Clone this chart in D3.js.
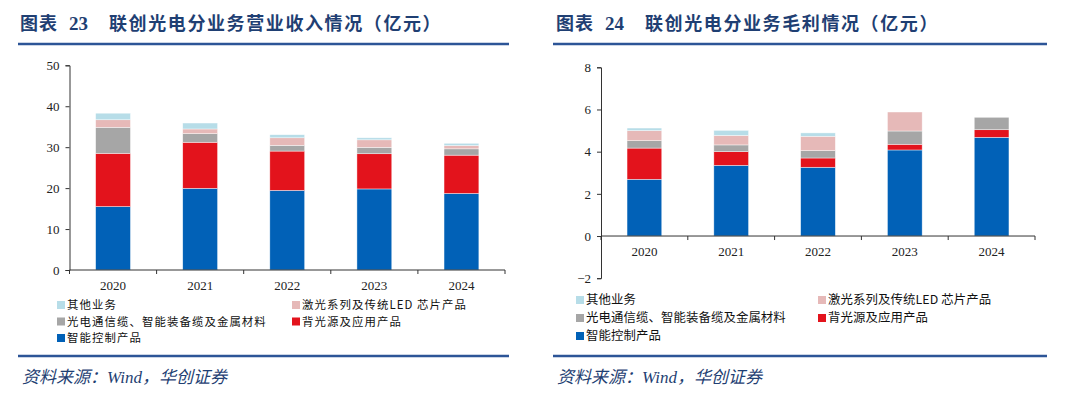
<!DOCTYPE html>
<html>
<head>
<meta charset="utf-8">
<script src="https://cdn.jsdelivr.net/npm/d3@7"></script>
<style>
  body { margin: 0; background: #fff; }
  svg { display: block; }
</style>
</head>
<body>
<svg width="1080" height="398"></svg>
<script>
var years = ['2020', '2021', '2022', '2023', '2024'];
var seriesNames = ['智能控制产品', '背光源及应用产品', '光电通信缆、智能装备缆及金属材料', '激光系列及传统LED 芯片产品', '其他业务'];
var seriesColors = ['#0161b7', '#e3131c', '#a6a6a6', '#e6b9b8', '#b7dde8'];

// 营业收入（亿元）
var revControl = [15.5, 19.95, 19.45, 19.8, 18.7];
var revBacklight = [13.0, 11.25, 9.6, 8.6, 9.35];
var revCable = [6.35, 2.1, 1.4, 1.55, 1.55];
var revLaser = [1.85, 1.15, 1.85, 1.85, 0.8];
var revOther = [1.6, 1.45, 0.75, 0.5, 0.55];

// 毛利（亿元）
var gpControl = [2.69, 3.35, 3.26, 4.08, 4.68];
var gpBacklight = [1.48, 0.65, 0.44, 0.27, 0.36];
var gpCable = [0.35, 0.32, 0.35, 0.63, 0.59];
var gpLaser = [0.48, 0.45, 0.68, 0.9, 0.0];
var gpOther = [0.12, 0.24, 0.16, 0.0, 0.0];

var revTicks = [0, 10, 20, 30, 40, 50];
var gpTicks = [-2, 0, 2, 4, 6, 8];

var svg = d3.select('svg');
var serif = '"Liberation Serif", "Times New Roman", serif';
var cjk = '"Noto Sans CJK SC", "Noto Sans", sans-serif';
var titleColor = '#1f3f73';

function buildRows(cols) {
    return years.map(function (y, i) {
        var row = { year: y };
        cols.forEach(function (c, k) { row['s' + k] = c[i]; });
        return row;
    });
}

function drawPanel(opt) {
    var g = svg.append('g');

    // title in three pieces: 图表 / number / caption
    var title = g.append('text')
        .attr('y', 30)
        .attr('font-family', serif + ',' + cjk)
        .attr('font-weight', 'bold')
        .attr('font-size', 18)
        .attr('fill', titleColor);
    title.append('tspan').attr('x', opt.titleX).attr('letter-spacing', 1).text('图表');
    title.append('tspan').attr('x', opt.titleX + 49).attr('font-size', 19).text(opt.num);
    title.append('tspan').attr('x', opt.titleX + 89).attr('letter-spacing', 1.6).text(opt.title);

    g.append('line')
        .attr('x1', opt.ruleX1).attr('x2', opt.ruleX2)
        .attr('y1', 44).attr('y2', 44)
        .attr('stroke', '#2c5597').attr('stroke-width', 2.5);
    g.append('line')
        .attr('x1', opt.ruleX1).attr('x2', opt.ruleX2)
        .attr('y1', 356).attr('y2', 356)
        .attr('stroke', '#2c5597').attr('stroke-width', 2.5);
    g.append('text')
        .attr('x', opt.ruleX1 + 4).attr('y', 383)
        .attr('font-family', serif + ',' + cjk)
        .attr('font-style', 'italic')
        .attr('font-size', 17)
        .attr('fill', titleColor)
        .text('资料来源：Wind，华创证券');

    var xScale = d3.scaleBand()
        .domain(years)
        .range([opt.x0, opt.x1])
        .paddingInner(0.6)
        .paddingOuter(0.3);

    var yScale = d3.scaleLinear()
        .domain(opt.domain)
        .range([opt.yBottom, opt.yTop]);

    var stack = d3.stack().keys(seriesNames.map(function (d, k) { return 's' + k; }));
    var layers = stack(buildRows(opt.cols));

    g.selectAll('g.layer')
        .data(layers)
        .enter().append('g')
        .attr('class', 'layer')
        .attr('fill', function (d, k) { return seriesColors[k]; })
        .selectAll('rect')
        .data(function (d) { return d; })
        .enter().append('rect')
        .attr('x', function (d) { return xScale(d.data.year); })
        .attr('width', xScale.bandwidth())
        .attr('y', function (d) { return yScale(d[1]); })
        .attr('height', function (d) { return Math.max(0, yScale(d[0]) - yScale(d[1])); })
        .attr('stroke', '#fff')
        .attr('stroke-opacity', function (d) { return d[1] - d[0] > 0 ? 0.7 : 0; })
        .attr('stroke-width', 0.6);

    // y axis
    var yAxis = g.append('g')
        .attr('transform', 'translate(' + opt.x0 + ',0)')
        .call(d3.axisLeft(yScale).tickValues(opt.ticks).tickSize(4).tickPadding(6).tickFormat(d3.format('d')));
    yAxis.select('.domain').attr('stroke', '#333');
    yAxis.selectAll('.tick line').attr('stroke', '#333');
    yAxis.selectAll('text')
        .attr('font-family', serif).attr('font-size', 13).attr('fill', '#222');

    // x axis with ticks between categories
    var x0 = yScale(0);
    var xAxisG = g.append('g');
    xAxisG.append('line')
        .attr('x1', opt.x0).attr('x2', opt.x1)
        .attr('y1', x0).attr('y2', x0)
        .attr('stroke', '#333');
    var bounds = d3.range(years.length + 1).map(function (i) {
        return opt.x0 + i * (opt.x1 - opt.x0) / years.length;
    });
    xAxisG.selectAll('line.tk')
        .data(bounds)
        .enter().append('line')
        .attr('class', 'tk')
        .attr('x1', function (d) { return d; }).attr('x2', function (d) { return d; })
        .attr('y1', x0).attr('y2', x0 + 4)
        .attr('stroke', '#333');
    xAxisG.selectAll('text')
        .data(years)
        .enter().append('text')
        .attr('x', function (d) { return xScale(d) + xScale.bandwidth() / 2; })
        .attr('y', x0 + 20)
        .attr('text-anchor', 'middle')
        .attr('font-family', serif).attr('font-size', 13).attr('fill', '#222')
        .text(function (d) { return d; });

    // legend
    var order = [4, 3, 2, 1, 0];
    var leg = g.append('g');
    order.forEach(function (k, i) {
        var col = i % 2, row = Math.floor(i / 2);
        var lx = opt.legX[col], ly = opt.legY[row];
        leg.append('rect')
            .attr('x', lx).attr('y', ly - 4)
            .attr('width', 8).attr('height', 8)
            .attr('fill', seriesColors[k]);
        leg.append('text')
            .attr('x', lx + 10).attr('y', ly)
            .attr('dy', '0.36em')
            .attr('font-family', cjk)
            .attr('font-size', opt.legSize)
            .attr('letter-spacing', 12.5 - opt.legSize)
            .attr('fill', '#111')
            .text(seriesNames[k]);
    });
}

drawPanel({
    num: '23', title: '联创光电分业务营业收入情况（亿元）',
    titleX: 20, ruleX1: 18, ruleX2: 509,
    x0: 69.5, x1: 505, yTop: 65.3, yBottom: 270,
    domain: [0, 50], ticks: revTicks,
    cols: [revControl, revBacklight, revCable, revLaser, revOther],
    legX: [57, 292], legY: [305, 321.5, 338], legSize: 11.4
});

drawPanel({
    num: '24', title: '联创光电分业务毛利情况（亿元）',
    titleX: 556, ruleX1: 553, ruleX2: 1047,
    x0: 601, x1: 1035, yTop: 67.3, yBottom: 278.2,
    domain: [-2, 8], ticks: gpTicks,
    cols: [gpControl, gpBacklight, gpCable, gpLaser, gpOther],
    legX: [576, 818], legY: [300, 318, 336], legSize: 12.4
});
</script>
</body>
</html>
